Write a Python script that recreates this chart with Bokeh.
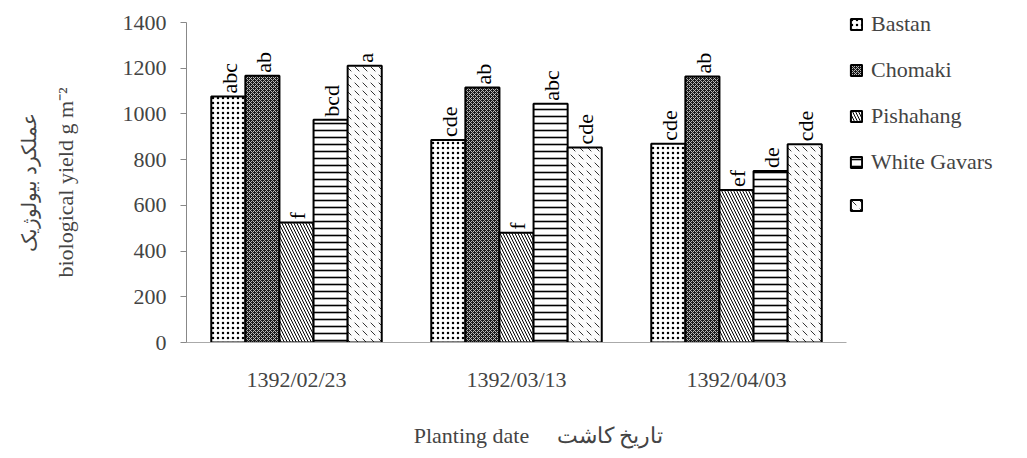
import math
from bokeh.plotting import figure
from bokeh.models import Legend, LegendItem, Title, ColumnDataSource, FixedTicker
from bokeh.transform import dodge
from bokeh.core.properties import value
from bokeh.embed import file_html
from bokeh.resources import INLINE

dates = ["1392/02/23", "1392/03/13", "1392/04/03"]
cultivars = ["Bastan", "Chomaki", "Pishahang", "White Gavars", ""]
bastan = [1076, 886, 869]
chomaki = [1167, 1116, 1164]
pishahang = [525, 480, 667]
white_gavars = [974, 1044, 750]
fifth = [1211, 853, 867]
bastan_letters = ["abc", "cde", "cde"]
chomaki_letters = ["ab", "ab", "ab"]
pishahang_letters = ["f", "f", "ef"]
white_gavars_letters = ["bcd", "abc", "de"]
fifth_letters = ["a", "cde", "cde"]
y_ticks = [0, 200, 400, 600, 800, 1000, 1200, 1400]

series = [bastan, chomaki, pishahang, white_gavars, fifth]
letters = [bastan_letters, chomaki_letters, pishahang_letters, white_gavars_letters, fifth_letters]

FONT = "Liberation Serif"

p = figure(x_range=dates, y_range=(0, 1400), output_backend="svg", toolbar_location=None,
           frame_width=660, frame_height=320, min_border_left=186, min_border_top=22,
           min_border_right=172, min_border_bottom=0, outline_line_color=None)
p.xgrid.grid_line_color = None
p.ygrid.grid_line_color = None

styles = [
    dict(fill_color="white", hatch_pattern="dot", hatch_color="black", hatch_scale=5, hatch_weight=1.2),
    dict(fill_color="#1a1a1a", hatch_pattern="diagonal_cross", hatch_color="#bbbbbb", hatch_scale=4, hatch_weight=1),
    dict(fill_color="white", hatch_pattern="left_diagonal_line", hatch_color="black", hatch_scale=6, hatch_weight=1),
    dict(fill_color="white", hatch_pattern="horizontal_line", hatch_color="black", hatch_scale=7, hatch_weight=1.6),
    dict(fill_color="#fbfbfb", hatch_pattern="left_diagonal_dash", hatch_color="#333333", hatch_scale=8, hatch_weight=1),
]

bw = 0.155
offsets = [-2 * bw, -bw, 0, bw, 2 * bw]
items = []
for i, name in enumerate(cultivars):
    src = ColumnDataSource(dict(date=dates, val=series[i], lab=letters[i]))
    r = p.vbar(x=dodge("date", offsets[i], range=p.x_range), top="val", width=bw, source=src,
               line_color="black", line_width=2, **styles[i])
    p.text(x=dodge("date", offsets[i], range=p.x_range), y="val", text="lab", source=src,
           angle=math.pi / 2, text_align="left", text_baseline="middle", y_offset=-3, x_offset=1,
           text_font=value(FONT), text_font_size="22px", text_color="black")
    items.append(LegendItem(label=name if name else " ", renderers=[r]))

legend = Legend(items=items, location=(3, 127), border_line_color=None, background_fill_alpha=0,
                glyph_width=14, glyph_height=14, label_text_font=FONT, label_text_font_size="22px",
                spacing=20, padding=2, margin=4, label_standoff=8, label_height=20)
p.add_layout(legend, "right")

p.yaxis.ticker = FixedTicker(ticks=y_ticks)
p.yaxis.minor_tick_line_color = None
p.yaxis.major_tick_in = 0
p.yaxis.major_tick_out = 6
p.yaxis.axis_line_color = "#888888"
p.yaxis.major_tick_line_color = "#888888"
p.yaxis.major_label_text_font = FONT
p.yaxis.major_label_text_font_size = "22px"
p.yaxis.major_label_standoff = 14
p.yaxis.axis_label = "biological yield g m\u207b\u00b2"
p.yaxis.axis_label_text_font = FONT
p.yaxis.axis_label_text_font_style = "normal"
p.yaxis.axis_label_text_font_size = "22px"
p.yaxis.axis_label_standoff = 42

p.add_layout(Title(text="عملکرد بیولوژیک", text_font=FONT, text_font_size="20px",
                   text_font_style="normal", align="center", standoff=20), "left")

p.xaxis.axis_line_color = "#aaaaaa"
p.xaxis.major_tick_line_color = None
p.xaxis.major_label_text_font = FONT
p.xaxis.major_label_text_font_size = "22px"
p.xaxis.major_label_standoff = 18
p.xaxis.axis_label = "\u2003\u2003Planting date\u2003 تاریخ کاشت"
p.xaxis.axis_label_text_font = FONT
p.xaxis.axis_label_text_font_style = "normal"
p.xaxis.axis_label_text_font_size = "22px"
p.xaxis.axis_label_standoff = 28

open("out.html", "w").write(file_html(p, INLINE))
